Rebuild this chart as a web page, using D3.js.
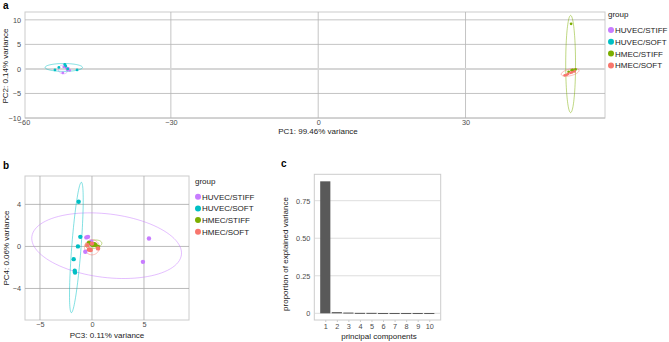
<!DOCTYPE html>
<html>
<head>
<meta charset="utf-8">
<script src="https://cdn.jsdelivr.net/npm/d3@7"></script>
<style>
  body { margin: 0; background: #fff; }
  svg { font-family: "Liberation Sans", Arial, sans-serif; display: block; }
  .tick text { fill: #4d4d4d; font-size: 7.3px; }
  .title { fill: #222; font-size: 8px; }
</style>
</head>
<body>
<svg id="fig" width="669" height="342"></svg>
<script>
const groups = ["HUVEC/STIFF", "HUVEC/SOFT", "HMEC/STIFF", "HMEC/SOFT"];
const groupColors = ["#C77CFF", "#00BFC4", "#7CAE00", "#F8766D"];

// panel a: PC1 vs PC2
const pcaA = {
  "HUVEC/STIFF": [[-52.0, -0.8], [-50.6, -0.3], [-51.3, 0.2], [-51.8, 0.4], [-51.1, -0.2], [-50.9, 0.1]],
  "HUVEC/SOFT": [[-53.6, -0.2], [-52.8, 0.3], [-51.4, 0.6], [-49.1, -0.2], [-51.6, 0.9], [-51.0, 0.0]],
  "HMEC/STIFF": [[51.5, 9.2], [51.6, -0.3], [52.4, -0.1], [51.0, -0.6], [52.0, -0.4], [51.8, -0.2]],
  "HMEC/SOFT": [[50.2, -1.3], [50.9, -1.0], [51.4, -0.8], [52.2, -0.5], [50.6, -1.2], [51.7, -0.7]]
};
// ellipse: centre, first and second conjugate semi-axis (data units)
const ellA = {
  "HUVEC/STIFF": [[-51.9, -0.1], [1.0, 0], [0, 0.9]],
  "HUVEC/SOFT": [[-51.8, 0.3], [3.8, 0], [0, 0.8]],
  "HMEC/STIFF": [[51.4, 1.0], [0, 9.9], [1.0, 0]],
  "HMEC/SOFT": [[51.3, -0.7], [1.8, 0.45], [-0.2, 0.65]]
};

// panel b: PC3 vs PC4
const pcaB = {
  "HUVEC/STIFF": [[5.48, 0.76], [4.9, -1.47], [-0.54, 0.86], [-0.38, 0.91], [-0.06, 0.44], [-0.64, -0.51]],
  "HUVEC/SOFT": [[-1.28, 4.25], [-1.12, 0.91], [-1.35, 0.0], [-1.76, -1.21], [-1.66, -2.32], [-1.63, -2.48]],
  "HMEC/STIFF": [[-0.29, 0.34], [0.1, 0.12], [0.36, 0.12], [0.58, -0.04], [-0.06, 0.22], [0.25, 0.2]],
  "HMEC/SOFT": [[-0.22, -0.29], [-0.12, -0.35], [0.58, -0.19], [-0.44, 0.12], [0.0, 0.27], [-0.3, -0.3]]
};
const ellB = {
  "HUVEC/STIFF": [[1.41, 0.07], [7.19, -0.87], [0.39, 3.0]],
  "HUVEC/SOFT": [[-1.5, -0.1], [0.48, 6.2], [0.45, 0]],
  "HMEC/STIFF": [[0.15, 0.2], [0.8, 0.1], [0, 0.4]],
  "HMEC/SOFT": [[0.0, -0.08], [0.72, 0], [0, 0.72]]
};

// panel c: scree
const components = [1, 2, 3, 4, 5, 6, 7, 8, 9, 10];
const explained = [0.879, 0.008, 0.005, 0.003, 0.003, 0.002, 0.002, 0.002, 0.002, 0.002];

const ticksA_x = [-60, -30, 0, 30];
const ticksA_y = [-10, -5, 0, 5, 10];
const ticksB_x = [-5, 0, 5];
const ticksB_y = [-4, 0, 4];
const ticksC_y = [0, 0.25, 0.5, 0.75];

const svg = d3.select("#fig");
const color = d3.scaleOrdinal(groups, groupColors);
const minus = d => d < 0 ? "\u2212" + (-d) : String(d);

function ellipsePts(e) {
  const [c, u, v] = e;
  return d3.range(0, 101).map(i => {
    const t = i / 100 * 2 * Math.PI;
    return [c[0] + u[0] * Math.cos(t) + v[0] * Math.sin(t), c[1] + u[1] * Math.cos(t) + v[1] * Math.sin(t)];
  });
}

function grid(g, x, y, xt, yt, box, col) {
  g.append("rect")
    .attr("x", box[0]).attr("y", box[1])
    .attr("width", box[2] - box[0]).attr("height", box[3] - box[1])
    .attr("fill", "#fff").attr("stroke", "#cccccc");
  xt.forEach(t => {
    if (x(t) < box[0] || x(t) > box[2]) return;
    g.append("line").attr("x1", x(t)).attr("x2", x(t)).attr("y1", box[1]).attr("y2", box[3])
      .attr("stroke", col).attr("stroke-width", 0.8);
  });
  yt.forEach(t => {
    g.append("line").attr("y1", y(t)).attr("y2", y(t)).attr("x1", box[0]).attr("x2", box[2])
      .attr("stroke", col).attr("stroke-width", 0.8);
  });
}

function axes(g, x, y, xt, yt, box) {
  g.append("g")
    .attr("transform", `translate(0,${box[3]})`)
    .call(d3.axisBottom(x).tickValues(xt).tickSize(0).tickPadding(2).tickFormat(minus))
    .call(a => a.select(".domain").remove());
  g.append("g")
    .attr("transform", `translate(${box[0]},0)`)
    .call(d3.axisLeft(y).tickValues(yt).tickSize(0).tickPadding(4).tickFormat(minus))
    .call(a => a.select(".domain").remove());
}

function scatter(g, x, y, data, ells, r) {
  const line = d3.line().x(d => x(d[0])).y(d => y(d[1]));
  groups.forEach(gr => {
    g.append("path")
      .attr("d", line(ellipsePts(ells[gr])))
      .attr("fill", "none")
      .attr("stroke", color(gr))
      .attr("stroke-opacity", 0.7)
      .attr("stroke-width", 0.7);
  });
  groups.forEach(gr => {
    g.selectAll(null)
      .data(data[gr])
      .enter()
      .append("circle")
      .attr("cx", d => x(d[0]))
      .attr("cy", d => y(d[1]))
      .attr("r", r)
      .attr("fill", color(gr));
  });
}

function legend(g, x0, y0, step) {
  g.append("text").attr("class", "title").attr("x", x0 - 3).attr("y", y0 - 13).text("group");
  groups.forEach((gr, i) => {
    g.append("circle").attr("cx", x0).attr("cy", y0 + i * step).attr("r", 3).attr("fill", color(gr));
    g.append("text").attr("class", "title").attr("x", x0 + 4).attr("y", y0 + i * step + 3).text(gr);
  });
}

function panelLabel(x, y, t) {
  svg.append("text").attr("x", x).attr("y", y).attr("font-size", 10).attr("font-weight", "bold").text(t);
}

// ---- panel a
const boxA = [25, 12, 605, 118];
const xA = d3.scaleLinear().domain([-59.7, 58.4]).range([boxA[0], boxA[2]]);
const yA = d3.scaleLinear().domain([-10, 11.6]).range([boxA[3], boxA[1]]);
const gA = svg.append("g");
grid(gA, xA, yA, ticksA_x, ticksA_y, boxA, "#b5b5b5");
gA.append("line").attr("x1", boxA[0]).attr("x2", boxA[2]).attr("y1", yA(0)).attr("y2", yA(0))
  .attr("stroke", "#d6d6d6").attr("stroke-width", 2);
axes(gA, xA, yA, ticksA_x, ticksA_y, boxA);
scatter(gA, xA, yA, pcaA, ellA, 1.4);
gA.append("text").attr("class", "title").attr("x", 318).attr("y", 134).attr("text-anchor", "middle")
  .text("PC1: 99.46% variance");
gA.append("text").attr("class", "title").attr("transform", "translate(8,66) rotate(-90)")
  .attr("text-anchor", "middle").text("PC2: 0.14% variance");
legend(gA, 611, 30, 11.8);
panelLabel(3, 9, "a");

// ---- panel b
const boxB = [25, 176, 189, 320];
const xB = d3.scaleLinear().domain([-6.44, 9.33]).range([boxB[0], boxB[2]]);
const yB = d3.scaleLinear().domain([-7.0, 6.7]).range([boxB[3], boxB[1]]);
const gB = svg.append("g");
grid(gB, xB, yB, ticksB_x, ticksB_y, boxB, "#a8a8a8");
axes(gB, xB, yB, ticksB_x, ticksB_y, boxB);
scatter(gB, xB, yB, pcaB, ellB, 2.2);
gB.append("text").attr("class", "title").attr("x", 107).attr("y", 338).attr("text-anchor", "middle")
  .text("PC3: 0.11% variance");
gB.append("text").attr("class", "title").attr("transform", "translate(9,248) rotate(-90)")
  .attr("text-anchor", "middle").text("PC4: 0.06% variance");
legend(gB, 198, 196.7, 11.7);
panelLabel(3, 169, "b");

// ---- panel c
const boxC = [314.3, 174.3, 440.7, 320];
const xC = d3.scaleLinear().domain([0.05, 10.99]).range([boxC[0], boxC[2]]);
const yC = d3.scaleLinear().domain([-0.0445, 0.9258]).range([boxC[3], boxC[1]]);
const gC = svg.append("g");
grid(gC, xC, yC, [], ticksC_y, boxC, "#d4d4d4");
gC.selectAll(".bar")
  .data(components)
  .enter()
  .append("rect")
  .attr("x", d => xC(d - 0.44))
  .attr("width", xC(0.88) - xC(0))
  .attr("y", (d, i) => yC(explained[i]))
  .attr("height", (d, i) => Math.max(1, yC(0) - yC(explained[i])))
  .attr("fill", "#595959");
gC.append("g")
  .attr("transform", `translate(0,${boxC[3]})`)
  .call(d3.axisBottom(xC).tickValues(components).tickSize(2).tickPadding(2).tickFormat(d => d))
  .call(a => a.select(".domain").remove())
  .call(a => a.selectAll(".tick line").attr("stroke", "#cccccc"));
gC.append("g")
  .attr("transform", `translate(${boxC[0]},0)`)
  .call(d3.axisLeft(yC).tickValues(ticksC_y).tickSize(0).tickPadding(4).tickFormat(d => d === 0 ? "0" : d3.format(".2f")(d)))
  .call(a => a.select(".domain").remove());
gC.append("text").attr("class", "title").attr("x", 379).attr("y", 339).attr("text-anchor", "middle")
  .text("principal components");
gC.append("text").attr("class", "title").attr("transform", "translate(288,254) rotate(-90)")
  .attr("text-anchor", "middle").text("proportion of explained variance");
panelLabel(281, 167, "c");
</script>
</body>
</html>
